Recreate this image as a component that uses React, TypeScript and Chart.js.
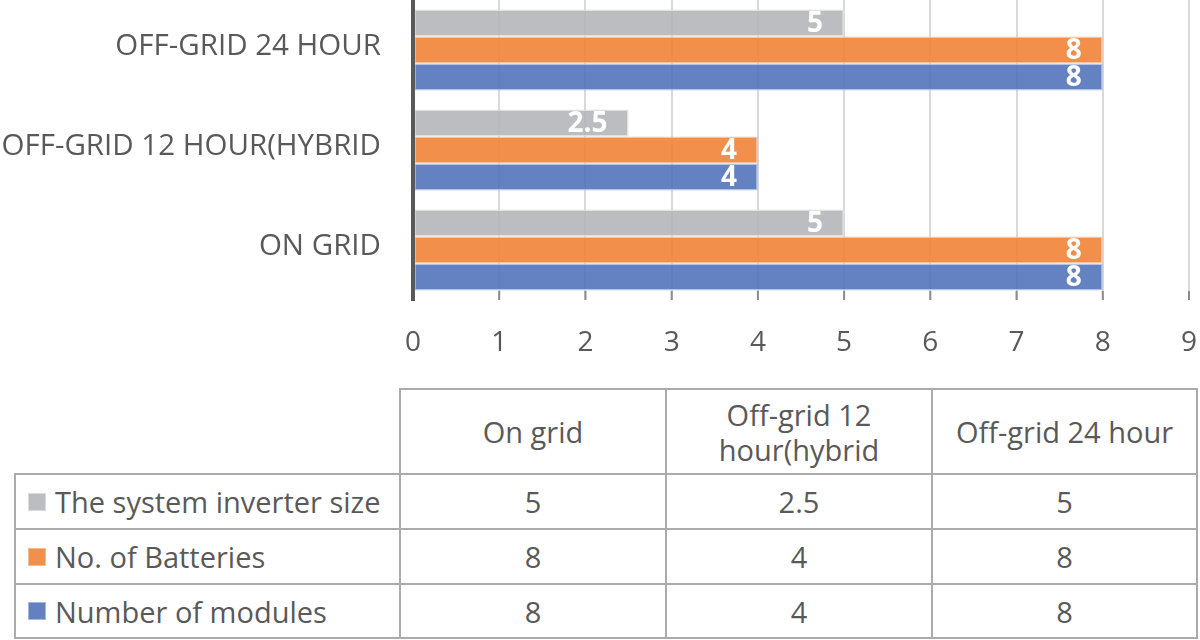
import React, { useEffect, useRef } from "react";
import { Chart, registerables } from "chart.js";

Chart.register(...registerables);

// ---- data (table order) ----
const categories = ["On grid", "Off-grid 12 hour(hybrid", "Off-grid 24 hour"];
const seriesNames = ["The system inverter size", "No. of Batteries", "Number of modules"];
const inverterSize = [5, 2.5, 5];
const batteries = [8, 4, 8];
const modules = [8, 4, 8];
const xMin = 0;
const xMax = 9;
const xStep = 1;

// ---- styles ----
const FONT = '"Open Sans", "Noto Sans", sans-serif';
const TEXT = "#595959";
const fills = ["rgba(179,180,183,0.88)", "rgba(239,128,50,0.88)", "rgba(78,111,185,0.88)"];
const edges = ["rgba(220,221,223,0.9)", "rgba(248,190,150,0.9)", "rgba(170,188,226,0.9)"];
const swatch = ["#BCBDC0", "#F18F4B", "#6380C1"];

const tickMarks = {
  id: "tickMarks",
  afterDatasetsDraw(chart: any) {
    const { ctx, chartArea, scales } = chart;
    const x = scales.x;
    ctx.save();
    ctx.strokeStyle = "#8C8C8C";
    ctx.lineWidth = 2;
    x.ticks.forEach((t: any) => {
      const px = x.getPixelForValue(t.value);
      ctx.beginPath();
      ctx.moveTo(px, chartArea.bottom - 9);
      ctx.lineTo(px, chartArea.bottom);
      ctx.stroke();
    });
    ctx.restore();
  },
};

const valueLabels = {
  id: "valueLabels",
  afterDatasetsDraw(chart: any) {
    const { ctx } = chart;
    ctx.save();
    ctx.fillStyle = "#FFFFFF";
    ctx.font = `bold 28px ${FONT}`;
    ctx.textAlign = "right";
    ctx.textBaseline = "middle";
    chart.data.datasets.forEach((ds: any, di: number) => {
      const meta = chart.getDatasetMeta(di);
      meta.data.forEach((bar: any, i: number) => {
        ctx.fillText(String(ds.data[i]), bar.x - 21, bar.y + 1);
      });
    });
    ctx.restore();
  },
};

export default function App() {
  const ref = useRef<HTMLCanvasElement>(null);

  useEffect(() => {
    const rev = (a: any[]) => [...a].reverse();
    const series = [inverterSize, batteries, modules];
    const chart = new Chart(ref.current as HTMLCanvasElement, {
      type: "bar",
      data: {
        labels: rev(categories).map((c: string) => c.toUpperCase()),
        datasets: series.map((s, i) => ({
          label: seriesNames[i],
          data: rev(s),
          backgroundColor: fills[i],
          borderColor: edges[i],
          borderWidth: 1.5,
          borderSkipped: false,
        })),
      },
      options: {
        indexAxis: "y",
        animation: false,
        responsive: false,
        layout: { padding: { top: 0, right: 11, bottom: 0, left: 0 } },
        datasets: { bar: { barPercentage: 1, categoryPercentage: 0.81 } } as any,
        plugins: { legend: { display: false }, tooltip: { enabled: false } },
        scales: {
          x: {
            type: "linear",
            min: xMin,
            max: xMax,
            ticks: { stepSize: xStep, color: TEXT, font: { family: FONT, size: 28 }, padding: 26 },
            grid: { color: "#D9D9D9", lineWidth: 2, drawTicks: false },
            border: { display: false },
            afterFit: (s: any) => {
              s.height = 60;
              s.paddingLeft = 0;
              s.paddingRight = 0;
            },
          },
          y: {
            type: "category",
            grid: { display: false, drawTicks: false },
            border: { display: true, color: "#595959", width: 4, z: 1 },
            ticks: { color: TEXT, font: { family: FONT, size: 29.5 }, padding: 32, labelOffset: -3 },
            afterFit: (s: any) => {
              s.width = 413;
              s.paddingTop = 0;
              s.paddingBottom = 0;
            },
          },
        } as any,
      },
      plugins: [tickMarks, valueLabels],
    });
    return () => chart.destroy();
  }, []);

  const colX = [15, 400, 666, 932, 1197];
  const headTop = 389;
  const headBottom = 474;
  const rowYs = [474, 529, 584, 638];
  const values = [inverterSize, batteries, modules];
  const border = "2px solid #ABABAB";

  const cell = (x0: number, x1: number, y0: number, y1: number, extra: any = {}) => ({
    position: "absolute" as const,
    left: x0 - 1,
    top: y0 - 1,
    width: x1 - x0 + 2,
    height: y1 - y0 + 2,
    border,
    boxSizing: "border-box" as const,
    display: "flex",
    alignItems: "center",
    justifyContent: "center",
    textAlign: "center" as const,
    fontSize: 29,
    lineHeight: "35px",
    ...extra,
  });

  return (
    <div
      style={{
        position: "absolute",
        left: 0,
        top: 0,
        width: 1200,
        height: 640,
        background: "#fff",
        fontFamily: FONT,
        color: TEXT,
        overflow: "hidden",
      }}
    >
      <canvas ref={ref} width={1200} height={360} style={{ position: "absolute", left: 0, top: 0, width: 1200, height: 360 }} />
      {categories.map((c, i) => (
        <div key={"h" + i} style={cell(colX[i + 1], colX[i + 2], headTop, headBottom, { padding: "0 6px" })}>
          {c}
        </div>
      ))}
      {seriesNames.map((name, r) => (
        <React.Fragment key={"r" + r}>
          <div style={cell(colX[0], colX[1], rowYs[r], rowYs[r + 1], { justifyContent: "flex-start", paddingLeft: 12 })}>
            <span
              style={{
                display: "inline-block",
                flex: "0 0 18px",
                width: 18,
                height: 18,
                background: swatch[r],
                border: "1px solid " + edges[r],
                boxSizing: "border-box",
                marginRight: 9,
              }}
            />
            <span style={{ whiteSpace: "nowrap" }}>{name}</span>
          </div>
          {values[r].map((v, c) => (
            <div key={"c" + c} style={cell(colX[c + 1], colX[c + 2], rowYs[r], rowYs[r + 1])}>
              {String(v)}
            </div>
          ))}
        </React.Fragment>
      ))}
    </div>
  );
}
